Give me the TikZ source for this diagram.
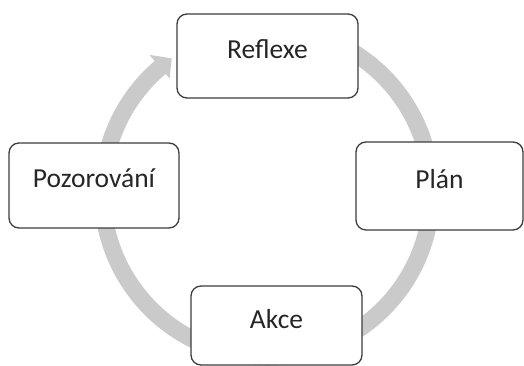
\documentclass[tikz,border=0pt]{standalone}
\usepackage{fontspec}
\setmainfont{Carlito}
\definecolor{ringgray}{HTML}{CACACA}
\definecolor{boxline}{HTML}{3C3C3C}
\begin{document}
\begin{tikzpicture}[x=1pt,y=1pt,
  cyclebox/.style={draw=boxline, line width=1.3pt, fill=white, rounded corners=10pt,
    inner sep=0pt, font=\fontsize{27.5}{31}\selectfont, text=black!85,
    text height=0.64em, text depth=0.16em}]
\useasboundingbox (0,0) rectangle (524,366);
\coordinate (c) at (267,173.5);
% circular arrow
\begin{scope}[shift={(c)}]
\fill[ringgray] (80:173) arc[start angle=80, end angle=-229.5, radius=173]
  -- (130.5:181) -- (125.4:164.6) -- (130.5:150) -- (130.5:156)
  arc[start angle=-229.5, end angle=80, radius=156] -- cycle;
\end{scope}
% boxes
\node[cyclebox, minimum width=181pt, minimum height=84pt] (refl) at (267.5,310) {Reflexe};
\node[cyclebox, minimum width=170pt, minimum height=85pt] (poz) at (94,180.5) {Pozorování};
\node[cyclebox, minimum width=167pt, minimum height=88pt] (plan) at (439.5,180) {Plán};
\node[cyclebox, minimum width=171pt, minimum height=79pt, text depth=0.02em] (akce) at (276.5,40.5) {Akce};
\end{tikzpicture}
\end{document}
